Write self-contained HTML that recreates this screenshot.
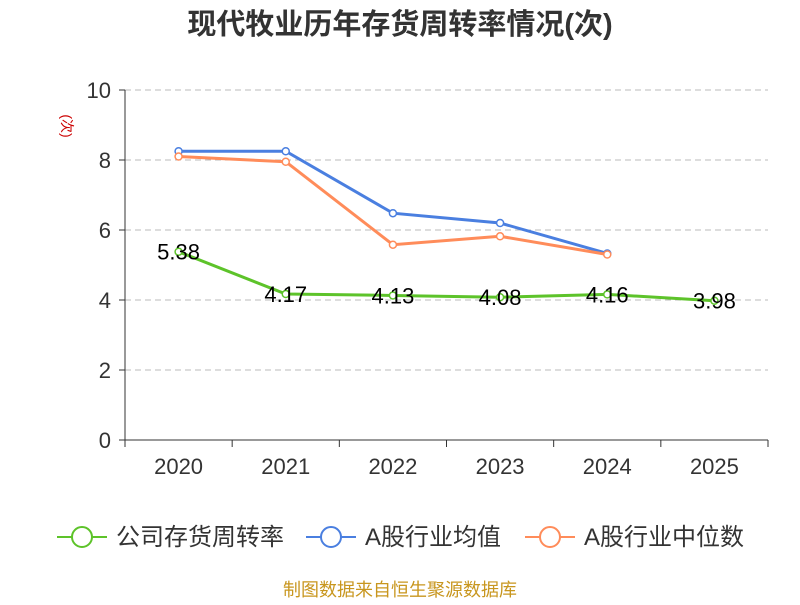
<!DOCTYPE html>
<html><head><meta charset="utf-8"><style>
body{margin:0;background:#fff;}
svg text{font-family:"Liberation Sans","Noto Sans CJK SC",sans-serif;}
</style></head><body>
<svg id="chart" width="800" height="600" xmlns="http://www.w3.org/2000/svg">
<text x="400" y="34" text-anchor="middle" font-size="29" font-weight="bold" fill="#333">现代牧业历年存货周转率情况(次)</text>
<text x="62" y="126" text-anchor="middle" font-size="14" fill="#c00" transform="rotate(90 62 126)">(次)</text>
<g id="grid"></g><g id="axes"></g><g id="series"></g>
<g>
<g><line x1="57" y1="537" x2="107" y2="537" stroke="#5dc32a" stroke-width="2"/><circle cx="82" cy="537" r="10" fill="#fff" stroke="#5dc32a" stroke-width="2"/><text x="116" y="545" font-size="24" fill="#333">公司存货周转率</text></g>
<g><line x1="306" y1="537" x2="356" y2="537" stroke="#4a7fe0" stroke-width="2"/><circle cx="331" cy="537" r="10" fill="#fff" stroke="#4a7fe0" stroke-width="2"/><text x="365" y="545" font-size="24" fill="#333">A股行业均值</text></g>
<g><line x1="525" y1="537" x2="575" y2="537" stroke="#ff8c5a" stroke-width="2"/><circle cx="550" cy="537" r="10" fill="#fff" stroke="#ff8c5a" stroke-width="2"/><text x="584" y="545" font-size="24" fill="#333">A股行业中位数</text></g>
</g>
<text x="400" y="596" text-anchor="middle" font-size="18" fill="#c8961e">制图数据来自恒生聚源数据库</text>
</svg>
<script>
const categories=["2020","2021","2022","2023","2024","2025"];
const company=[5.38,4.17,4.13,4.08,4.16,3.98];
const industryMean=[8.25,8.25,6.48,6.2,5.33];
const industryMedian=[8.1,7.95,5.58,5.82,5.3];
const yTicks=[0,2,4,6,8,10];
const companyLabels=["5.38","4.17","4.13","4.08","4.16","3.98"];
const NS="http://www.w3.org/2000/svg";
const x0=125,x1=768,yTop=90,yBot=440;
const bw=(x1-x0)/categories.length;
const xs=i=>x0+bw*(i+0.5);
const ys=v=>yBot-(v/10)*(yBot-yTop);
function mk(tag,attrs,parent){const e=document.createElementNS(NS,tag);for(const k in attrs)e.setAttribute(k,attrs[k]);parent.appendChild(e);return e;}
const grid=document.getElementById('grid'),axes=document.getElementById('axes'),series=document.getElementById('series');
yTicks.forEach(t=>{
 if(t>0){const l=mk('line',{x1:x0,x2:x1,y1:ys(t),y2:ys(t),stroke:'#bbb','stroke-dasharray':'6,4'},grid);
 
 }
 const tk=mk('line',{x1:x0-6,x2:x0,y1:ys(t),y2:ys(t),stroke:'#333'},axes);
 
 
 const tx=mk('text',{x:x0-14,y:ys(t)+8,'text-anchor':'end','font-size':22,fill:'#333'},axes);tx.textContent=t;
 
 
});
const ya=mk('line',{x1:x0,x2:x0,y1:yTop,y2:yBot,stroke:'#333'},axes);


const xa=mk('line',{x1:x0,x2:x1,y1:yBot,y2:yBot,stroke:'#333'},axes);


for(let i=0;i<=categories.length;i++){const t=mk('line',{x1:x0+bw*i,x2:x0+bw*i,y1:yBot,y2:yBot+7,stroke:'#333'},axes);
 
 }
categories.forEach((c,i)=>{const t=mk('text',{x:xs(i),y:474,'text-anchor':'middle','font-size':22,fill:'#333'},axes);t.textContent=c;
 
 });
function draw(data,color,name){
 const p=mk('polyline',{points:data.map((v,i)=>xs(i)+','+ys(v)).join(' '),fill:'none',stroke:color,'stroke-width':3},series);
 
 
 data.forEach((v,i)=>{const c=mk('circle',{cx:xs(i),cy:ys(v),r:3.5,fill:'#fff',stroke:color,'stroke-width':1.5},series);
  
  });
}
draw(industryMean,'#4a7fe0','industry-mean');
draw(industryMedian,'#ff8c5a','industry-median');
draw(company,'#5dc32a','company');
company.forEach((v,i)=>{const t=mk('text',{x:xs(i),y:ys(v)+8,'text-anchor':'middle','font-size':22,fill:'#000'},series);t.textContent=companyLabels[i];
 
 });
</script>
</body></html>
